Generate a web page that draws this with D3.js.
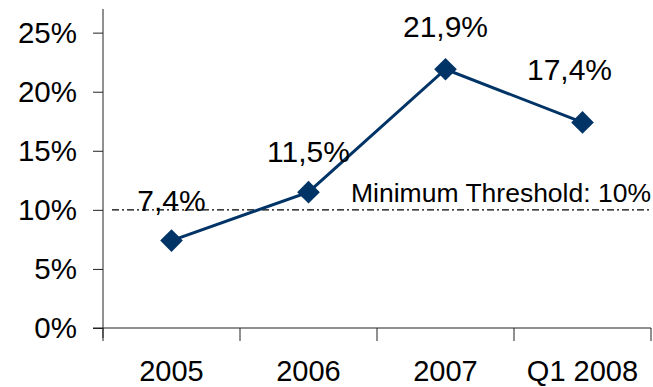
<!DOCTYPE html>
<html>
<head>
<meta charset="utf-8">
<script src="https://cdn.jsdelivr.net/npm/d3@7/dist/d3.min.js"></script>
<style>
  html, body { margin: 0; padding: 0; background: #fff; }
  svg { display: block; }
  text { font-family: "Liberation Sans", Arial, sans-serif; fill: #000; }
</style>
</head>
<body>
<svg id="chart" width="653" height="387"></svg>
<script>
// Annual return series with a minimum threshold reference line
const categories = ["2005", "2006", "2007", "Q1 2008"];
const values = [7.4, 11.5, 21.9, 17.4];
const valueLabels = ["7,4%", "11,5%", "21,9%", "17,4%"];
const yTicks = [0, 5, 10, 15, 20, 25];
const threshold = 10;
const thresholdLabel = "Minimum Threshold: 10%";

// label nudges relative to each marker, in pixels
const labelOffsets = [[0, -30], [0, -30], [0, -32], [-13, -42]];

const svg = d3.select("#chart");
const lineColor = "#003366";

const x = d3.scaleBand().domain(categories).range([103, 651]).paddingInner(0).paddingOuter(0);
const y = d3.scaleLinear().domain([0, 27]).range([328, 9]);
const cx = d => x(d) + x.bandwidth() / 2;

// y axis
const yAxis = svg.append("g").attr("transform", "translate(103,0)")
  .call(d3.axisLeft(y).tickValues(yTicks).tickSize(10).tickPadding(16)
    .tickFormat(d => d + "%"));
yAxis.select(".domain").remove();
yAxis.selectAll(".tick line").attr("stroke", "#222");
yAxis.selectAll(".tick text")
  .style("font-size", "29.5px")
  .style("font-family", "'Liberation Sans', Arial, sans-serif")
  .attr("fill", "#000");
svg.append("line")
  .attr("x1", 103).attr("x2", 103)
  .attr("y1", y(27)).attr("y2", 338)
  .attr("stroke", "#222").attr("stroke-width", 1);

// x axis with ticks at band boundaries
svg.append("line")
  .attr("x1", 93).attr("x2", 651)
  .attr("y1", y(0)).attr("y2", y(0))
  .attr("stroke", "#222").attr("stroke-width", 1);
const bounds = categories.map(c => x(c)).concat([x(categories[categories.length - 1]) + x.bandwidth()]);
svg.append("g").selectAll("line").data(bounds).join("line")
  .attr("x1", d => d).attr("x2", d => d)
  .attr("y1", y(0)).attr("y2", y(0) + 13)
  .attr("stroke", "#222").attr("stroke-width", 1);
svg.append("g").selectAll("text").data(categories).join("text")
  .attr("x", d => cx(d)).attr("y", 381)
  .attr("text-anchor", "middle")
  .style("font-size", "29px")
  .text(d => d);

// threshold line
svg.append("line")
  .attr("x1", 112).attr("x2", 651)
  .attr("y1", y(threshold)).attr("y2", y(threshold))
  .attr("stroke", "#000").attr("stroke-width", 1.3)
  .attr("stroke-dasharray", "7,3,2,3");
svg.append("text")
  .attr("x", 651).attr("y", y(threshold) - 8)
  .attr("text-anchor", "end")
  .style("font-size", "26.5px")
  .text(thresholdLabel);

// series line and diamond markers
const pts = categories.map((c, i) => [cx(c), y(values[i])]);
svg.append("path")
  .attr("d", d3.line()(pts))
  .attr("fill", "none").attr("stroke", lineColor).attr("stroke-width", 3);
svg.append("g").selectAll("path").data(pts).join("path")
  .attr("transform", d => `translate(${d[0]},${d[1]}) rotate(45)`)
  .attr("d", d3.symbol().type(d3.symbolSquare).size(16 * 16))
  .attr("fill", lineColor);

// value labels
svg.append("g").selectAll("text").data(pts).join("text")
  .attr("x", (d, i) => d[0] + labelOffsets[i][0])
  .attr("y", (d, i) => d[1] + labelOffsets[i][1])
  .attr("text-anchor", "middle")
  .style("font-size", "30px")
  .text((d, i) => valueLabels[i]);
</script>
</body>
</html>
